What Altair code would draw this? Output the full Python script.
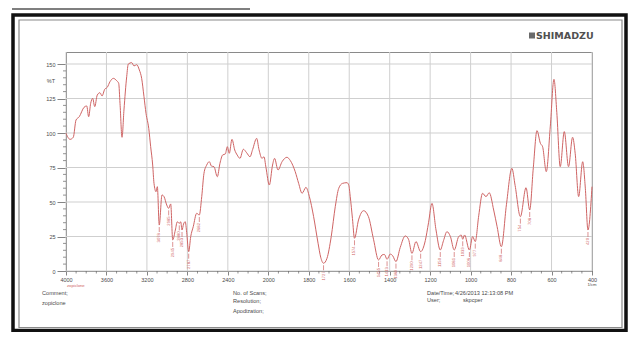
import altair as alt
import pandas as pd

# ---------------- data ----------------
wavenumber = [4000, 3960, 3928, 3901, 3869, 3822, 3795, 3776, 3756, 3736, 3716, 3691, 3664, 3644,
              3617, 3592, 3565, 3532, 3499, 3479, 3466, 3446, 3427, 3400, 3384, 3350, 3328, 3301,
              3275, 3252, 3229, 3209, 3182, 3163, 3143, 3130, 3110, 3097, 3078, 3051, 3031, 3004,
              2985, 2965, 2945, 2919, 2900, 2880, 2866, 2853, 2838, 2821, 2807, 2787, 2767, 2742,
              2708, 2682, 2658, 2636, 2609, 2583, 2562, 2537, 2504, 2478, 2451, 2425, 2405, 2386,
              2359, 2332, 2307, 2280, 2247, 2214, 2181, 2155, 2115, 2092, 2062, 2043, 2023,
              1995, 1979, 1969, 1952, 1932, 1908, 1891, 1867, 1850, 1833, 1814, 1797, 1776, 1754,
              1741, 1727, 1710, 1689, 1669, 1652, 1633, 1611, 1602, 1595, 1584, 1574, 1554, 1529,
              1505, 1480, 1455, 1438, 1426, 1413, 1397, 1385, 1369, 1348, 1323, 1307, 1290, 1270,
              1247, 1224, 1208, 1191, 1171, 1150, 1134, 1117, 1100, 1081, 1059, 1046, 1039, 1030,
              1006, 990, 977, 960, 941, 924, 908, 886, 869, 848, 823, 796, 780, 754, 726, 708,
              690, 672, 655, 644, 626, 606, 588, 574, 557, 537, 516, 496, 483, 466, 446, 433,
              420, 400]
transmittance = [99.8, 95.4, 96.9, 109.4, 111.8, 118.6, 119.6, 111.8, 121.5, 125.1, 119.1, 127.5,
                 129.2, 126.8, 131.7, 133.1, 137.2, 139.6, 137.9, 136.0, 121.5, 96.9, 116.7, 140.8,
                 150.0, 151.0, 148.6, 149.5, 145.7, 139.6, 126.3, 114.3, 103.4, 90.1, 76.8, 63.5,
                 57.5, 61.1, 33.3, 55.1, 53.9, 47.8, 45.4, 48.6, 22.5, 29.7, 35.7, 34.5, 35.7, 29.7,
                 34.0, 35.7, 28.0, 14.0, 24.9, 32.1, 41.8, 40.6, 53.9, 70.8, 76.8, 79.2, 76.0, 75.6,
                 68.3, 78.0, 84.1, 84.8, 90.1, 85.3, 95.4, 87.7, 84.0, 81.6, 88.2, 85.7, 82.8, 88.0,
                 96.1, 88.0, 81.6, 82.8, 75.0,
                 62.3, 76.8, 81.6, 73.2, 79.2, 82.4, 80.0, 72.0, 63.5, 56.3, 60.6, 53.9, 39.4, 20.1,
                 10.0, 5.6, 9.2, 24.9, 46.6, 59.9, 63.5, 64.0, 62.0, 53.9, 38.0, 23.7, 37.0, 43.7,
                 39.4, 23.0, 8.0, 11.6, 12.0, 8.5, 12.3, 11.0, 6.8, 17.0, 25.4, 23.0, 12.8, 21.3,
                 14.0, 22.0, 35.0, 49.0, 29.7, 15.2, 22.0, 28.5, 25.0, 15.2, 24.9, 26.0, 23.0, 26.1,
                 15.2, 24.9, 21.3, 40.0, 56.3, 53.9, 56.7, 44.2, 32.1, 17.6, 48.0, 74.4, 62.0, 39.4,
                 60.4, 44.2, 75.0, 101.7, 92.5, 90.0, 72.0, 105.0, 138.9, 115.0, 75.6, 101.0, 75.6,
                 96.9, 85.0, 53.9, 79.2, 60.0, 29.7, 61.1]

peak_wn = [3078, 2985, 2945, 2880, 2853, 2787, 2682, 1727, 1574, 1455, 1413, 1369, 1290, 1247,
           1150, 1081, 1039, 1006, 977, 848, 754, 708, 420]
peak_t = [33.3, 45.4, 22.5, 34.5, 29.7, 14.0, 40.6, 5.6, 23.7, 8.0, 8.5, 6.8, 12.8, 14.0,
          15.2, 15.2, 23.0, 15.2, 21.3, 17.6, 39.4, 44.2, 29.7]
peak_labels = [str(v) for v in peak_wn]

x_major = [4000, 3600, 3200, 2800, 2400, 2000, 1800, 1600, 1400, 1200, 1000, 800, 600, 400]
y_major = [0, 25, 50, 75, 100, 125, 150]

brand = "SHIMADZU"
y_unit = "%T"
x_unit = "1/cm"
sample_tag = "zopiclone"
comment_head = "Comment;"
comment_text = "zopiclone"
scans_head = "No. of Scans;"
resolution_head = "Resolution;"
apod_head = "Apodization;"
date_head = "Date/Time;"
date_text = "4/26/2013 12:13:08 PM"
user_head = "User;"
user_text = "skpcper"

# ---------------- layout / style ----------------
W, H = 526, 219
FONT = "Liberation Sans"
TXT = "#4a4a4a"
RED = "#cf6464"
GRID = "#cfcfcf"

x_scale = alt.Scale(domain=[4000, 2000, 400], range=[0, 202.3, W], nice=False, zero=False)
y_scale = alt.Scale(domain=[0, 158.7], nice=False, zero=False)

x_minor = [v for v in range(2100, 4000, 100) if v % 400] + [v for v in range(450, 2000, 50) if v % 200]
y_minor = [v for v in range(5, 151, 5) if v % 25]

spec = pd.DataFrame({"wn": wavenumber, "t": transmittance, "i": range(len(wavenumber))})
peaks = pd.DataFrame({"wn": peak_wn, "t": peak_t, "lab": peak_labels})


def one(text=""):
    return alt.Data(values=[{"t": text}])


def label(text, x, y, size=5.6, color=TXT, align="left", weight="normal", font=FONT):
    return alt.Chart(one(text)).mark_text(
        align=align, baseline="middle", fontSize=size, color=color, fontWeight=weight, font=font
    ).encode(x=alt.value(x), y=alt.value(y), text="t:N")


def box(x1, x2, y1, y2, color, width):
    return alt.Chart(one()).mark_rect(fillOpacity=0, stroke=color, strokeWidth=width).encode(
        x=alt.value(x1), x2=alt.value(x2), y=alt.value(y1), y2=alt.value(y2))


x_axis = alt.Axis(
    values=x_major, title=None, format="d", grid=False,
    tickSize=4, tickColor="#666", domainColor="#666", domainWidth=0.8, tickWidth=0.8,
    labelFont=FONT, labelFontSize=5.5, labelColor=TXT, labelPadding=2,
    labelFlush=False, labelOverlap=False)
y_axis = alt.Axis(
    values=y_major, title=None, format="d", grid=False,
    tickSize=9, tickColor="#666", domainColor="#666", domainWidth=0.8, tickWidth=0.8,
    labelFont=FONT, labelFontSize=5.5, labelColor=TXT, labelPadding=2,
    labelFlush=False, labelOverlap=False)

outer = box(-53, 560, -37, 278.5, "#111111", 3.5)
inner = box(-47, 556, -32, 275.5, "#8a8a8a", 1.2)
top_line = alt.Chart(one()).mark_rule(color="#555555", strokeWidth=1.3).encode(
    x=alt.value(-54), x2=alt.value(184), y=alt.value(-43))

xgrid = alt.Chart(pd.DataFrame({"wn": x_major})).mark_rule(color=GRID, strokeWidth=1).encode(
    x=alt.X("wn:Q", scale=x_scale, axis=x_axis), y=alt.value(0), y2=alt.value(H))
ygrid = alt.Chart(pd.DataFrame({"t": y_major})).mark_rule(color=GRID, strokeWidth=1).encode(
    y=alt.Y("t:Q", scale=y_scale, axis=y_axis), x=alt.value(0), x2=alt.value(W))

line = alt.Chart(spec).mark_line(color=RED, strokeWidth=1, interpolate="monotone").encode(
    x=alt.X("wn:Q", scale=x_scale, axis=x_axis),
    y=alt.Y("t:Q", scale=y_scale, axis=y_axis),
    order="i:Q",
)

xminor = alt.Chart(pd.DataFrame({"wn": x_minor})).mark_rule(color="#666", strokeWidth=0.7).encode(
    x=alt.X("wn:Q", scale=x_scale, axis=x_axis), y=alt.value(H), y2=alt.value(H + 2.5))
yminor = alt.Chart(pd.DataFrame({"t": y_minor})).mark_rule(color="#666", strokeWidth=0.7).encode(
    y=alt.Y("t:Q", scale=y_scale, axis=y_axis), x=alt.value(-3), x2=alt.value(0))

peak_tick = alt.Chart(peaks).mark_rule(color=RED, strokeWidth=0.7, yOffset=2, y2Offset=7).encode(
    x=alt.X("wn:Q", scale=x_scale, axis=x_axis),
    y=alt.Y("t:Q", scale=y_scale, axis=y_axis), y2="t:Q")
peak_text = alt.Chart(peaks).mark_text(
    angle=270, align="right", baseline="middle", fontSize=4.2, color=RED, font=FONT, yOffset=8
).encode(x=alt.X("wn:Q", scale=x_scale, axis=x_axis),
         y=alt.Y("t:Q", scale=y_scale, axis=y_axis), text="lab:N")

logo_icon = alt.Chart(one()).mark_rect(color="#6a6a6a").encode(
    x=alt.value(463), x2=alt.value(469), y=alt.value(-19.5), y2=alt.value(-13.5))

texts = [
    label(brand, 470, -16.5, size=9.5, color="#505050", weight="bold", font="DejaVu Sans"),
    label(y_unit, -11, 29, size=5.5, align="right"),
    label(x_unit, W, 232.5, size=4.2, align="center"),
    label(sample_tag, 1, 233.5, size=4.2, color=RED),
    label(comment_head, -24, 241),
    label(comment_text, -24, 251),
    label(scans_head, 167, 241),
    label(resolution_head, 167, 249),
    label(apod_head, 167, 259),
    label(date_head, 361, 241),
    label(date_text, 389, 241),
    label(user_head, 361, 248),
    label(user_text, 397, 248),
]

chart = alt.layer(
    outer, inner, top_line, xgrid, ygrid, line, xminor, yminor, peak_tick, peak_text,
    logo_icon, *texts
).properties(
    width=W, height=H, autosize="none",
    padding={"left": 58, "top": 44, "right": 36, "bottom": 61},
    background="white",
).configure_view(stroke="#8a8a8a", strokeWidth=1)

chart.save("out.html", embed_options={"renderer": "svg", "actions": False})
